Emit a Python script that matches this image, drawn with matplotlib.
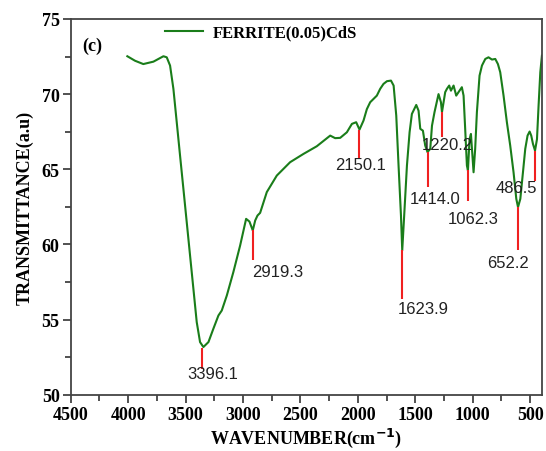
import matplotlib
matplotlib.use("Agg")
import matplotlib.pyplot as plt
from matplotlib.ticker import MultipleLocator

# FTIR spectrum (wavenumber in cm-1, transmittance in a.u)
wavenumber = [
    4007, 3940, 3868, 3780, 3693, 3664, 3635, 3606, 3577, 3548, 3519, 3490,
    3461, 3432, 3403, 3374, 3345, 3301, 3258, 3214, 3185, 3141, 3084, 3025,
    2973, 2944, 2915, 2894, 2874, 2851, 2793, 2706, 2590, 2474, 2358, 2241,
    2198, 2154, 2096, 2052, 2015, 1986, 1951, 1922, 1893, 1835, 1806, 1777,
    1747, 1712, 1689, 1666, 1646, 1625, 1614, 1597, 1573, 1550, 1530, 1492,
    1472, 1457, 1434, 1414, 1394, 1370, 1355, 1333, 1298, 1277, 1268, 1254,
    1240, 1225, 1205, 1190, 1167, 1144, 1124, 1095, 1080, 1066, 1051, 1042,
    1028, 1016, 1005, 993, 979, 964, 941, 920, 891, 863, 833, 804,
    781, 761, 732, 703, 674, 645, 621, 606, 586, 563, 543, 523,
    505, 491, 476, 458, 441, 427, 412, 398,
]
transmittance = [
    72.52, 72.22, 72.00, 72.16, 72.52, 72.45, 71.90, 70.35, 68.13, 65.90, 63.70, 61.48,
    59.26, 57.05, 54.83, 53.50, 53.17, 53.50, 54.39, 55.27, 55.60, 56.60, 58.16, 59.93,
    61.70, 61.52, 60.93, 61.59, 61.92, 62.10, 63.48, 64.58, 65.47, 66.02, 66.53, 67.24,
    67.07, 67.09, 67.46, 68.02, 68.13, 67.64, 68.24, 69.00, 69.46, 69.90, 70.35, 70.68,
    70.86, 70.90, 70.57, 68.57, 65.25, 61.92, 59.60, 61.92, 65.25, 67.46, 68.68, 69.28,
    68.90, 67.69, 67.57, 66.58, 66.14, 66.36, 67.90, 68.80, 70.00, 69.46, 68.80, 69.46,
    70.13, 70.35, 70.57, 70.23, 70.57, 69.90, 70.13, 70.46, 69.90, 67.69, 65.25, 64.92,
    67.00, 67.35, 66.14, 64.80, 66.36, 68.80, 71.23, 71.90, 72.34, 72.45, 72.30, 72.34,
    72.00, 71.46, 69.90, 68.13, 66.58, 64.80, 63.03, 62.48, 63.03, 64.80, 66.36, 67.24,
    67.51, 67.24, 66.69, 66.24, 67.00, 69.24, 71.46, 72.56,
]

# peak markers: where the red tick sits, its top/bottom, and the printed label
peak_x = [3359, 2909, 1986, 1617, 1394, 1268, 1042, 606, 455]
peak_top = [53.13, 60.93, 67.64, 59.60, 66.14, 68.80, 64.92, 62.48, 66.24]
peak_bottom = [51.70, 58.93, 65.69, 56.38, 63.80, 67.13, 62.92, 59.60, 64.25]
peak_labels = ["3396.1", "2919.3", "2150.1", "1623.9", "1414.0",
               "1220.2", "1062.3", "652.2", "486.5"]
label_x = [3265, 2698, 1977, 1428, 1327, 1225, 1000, 695, 623]
label_y = [51.40, 58.18, 65.31, 55.72, 63.03, 66.64, 61.70, 58.82, 63.80]

fig = plt.figure(figsize=(5.46, 4.52), dpi=100)
ax = fig.add_axes([0.1295, 0.1246, 0.8626, 0.8312])

ax.plot(wavenumber, transmittance, color="#1a7d1a", linewidth=1.5,
        label="FERRITE(0.05)CdS")
ax.vlines(peak_x, peak_bottom, peak_top, color="#f02020", linewidth=1.5)
for lx, ly, txt in zip(label_x, label_y, peak_labels):
    ax.text(lx, ly, txt, ha="center", va="center", fontsize=12,
            family="Liberation Sans", color="#222222")

ax.set_xlim(4500, 400)
ax.set_ylim(50, 75)
ax.xaxis.set_major_locator(MultipleLocator(500))
ax.xaxis.set_minor_locator(MultipleLocator(250))
ax.yaxis.set_major_locator(MultipleLocator(5))
ax.yaxis.set_minor_locator(MultipleLocator(2.5))
ax.tick_params(which="both", direction="out", top=False, right=False,
               color="#333333", width=1.2)
ax.tick_params(which="major", length=6, pad=2)
ax.tick_params(which="minor", length=4)
for lbl in ax.get_xticklabels() + ax.get_yticklabels():
    lbl.set_family("Liberation Serif")
    lbl.set_fontweight("bold")
    lbl.set_fontsize(13)
for sp in ax.spines.values():
    sp.set_color("#444444")
    sp.set_linewidth(1.3)

ax.set_xlabel(r"WAVENUMBER(cm$^{\mathbf{-1}}$)", family="Liberation Serif",
              fontweight="bold", fontsize=13, labelpad=2)
ax.set_ylabel("TRANSMITTANCE(a.u)", family="Liberation Serif",
              fontweight="bold", fontsize=13, labelpad=6)
ax.text(0.025, 0.93, "(c)", transform=ax.transAxes, family="Liberation Serif",
        fontweight="bold", fontsize=13, va="center")

leg = ax.legend(loc="upper left", bbox_to_anchor=(0.2, 0.985), frameon=False,
                borderpad=0, borderaxespad=0, handlelength=2.3, handletextpad=0.6,
                prop={"family": "Liberation Serif", "weight": "bold", "size": 12})

fig.savefig("out.png", dpi=100)
